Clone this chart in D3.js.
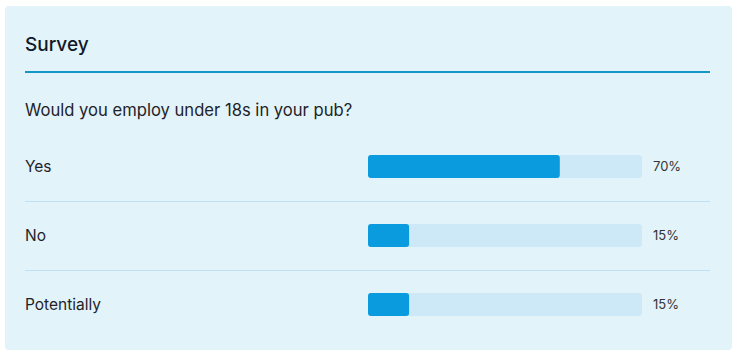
<!DOCTYPE html>
<html><head><meta charset="utf-8">
<script src="https://cdn.jsdelivr.net/npm/d3@7"></script>
<style>
html,body{margin:0;padding:0;background:#fff;}
svg{display:block;font-family:Inter,"Noto Sans",sans-serif;}
</style></head>
<body>
<svg id="chart" width="738" height="358"></svg>
<script>
const title = "Survey";
const question = "Would you employ under 18s in your pub?";
const categories = ["Yes", "No", "Potentially"];
const values = [70, 15, 15];

const svg = d3.select("#chart");
svg.append("rect").attr("x",5).attr("y",6).attr("width",727).attr("height",344)
  .attr("rx",4).attr("fill","#e2f3fa");
svg.append("text").attr("x",25).attr("y",51).text(title)
  .attr("font-size",19).attr("font-weight",500).attr("fill","#111827");
svg.append("rect").attr("x",25).attr("y",71).attr("width",685).attr("height",2).attr("fill","#1597c8");
svg.append("text").attr("x",25).attr("y",116).text(question)
  .attr("font-size",16.6).attr("fill","#1f2328");

const y = d3.scaleBand().domain(categories).range([132,339]).padding(0);
const x = d3.scaleLinear().domain([0,100]).range([368,642]);
const barH = 23;

const rows = svg.selectAll("g.row").data(categories.map((c,i)=>({c,v:values[i],i}))).join("g").attr("class","row");
rows.append("text").attr("x",25).attr("y",d=>y(d.c)+y.bandwidth()/2).attr("dy","0.35em")
  .text(d=>d.c).attr("font-size",15.5).attr("fill","#1f2328");
rows.append("rect").attr("x",x(0)).attr("y",d=>y(d.c)+y.bandwidth()/2-barH/2)
  .attr("width",x(100)-x(0)).attr("height",barH).attr("rx",3).attr("fill","#cde9f7");
rows.append("rect").attr("x",x(0)).attr("y",d=>y(d.c)+y.bandwidth()/2-barH/2)
  .attr("width",d=>x(d.v)-x(0)).attr("height",barH).attr("rx",3).attr("fill","#0a9ade");
rows.append("text").attr("x",653).attr("y",d=>y(d.c)+y.bandwidth()/2).attr("dy","0.35em")
  .text(d=>d.v+"%").attr("font-size",13).attr("fill","#333");
rows.filter(d=>d.i<categories.length-1).append("rect").attr("x",25).attr("y",d=>y(d.c)+y.bandwidth())
  .attr("width",685).attr("height",1).attr("fill","#bfe2f2");
</script>
</body></html>
